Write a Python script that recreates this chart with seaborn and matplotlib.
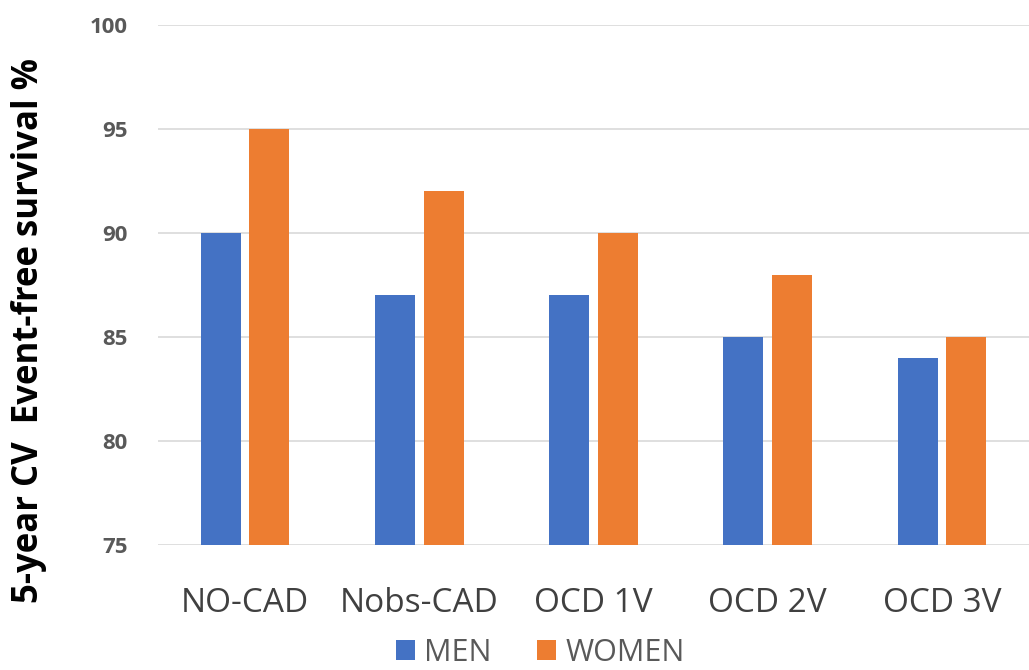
import matplotlib
matplotlib.use("Agg")
import matplotlib.pyplot as plt
import seaborn as sns
import pandas as pd

categories = ["NO-CAD", "Nobs-CAD", "OCD 1V", "OCD 2V", "OCD 3V"]
men = [90, 87, 87, 85, 84]
women = [95, 92, 90, 88, 85]
series_names = ["MEN", "WOMEN"]
y_ticks = [75, 80, 85, 90, 95, 100]

df = pd.DataFrame({
    "category": categories * 2,
    "value": men + women,
    "sex": [series_names[0]] * len(categories) + [series_names[1]] * len(categories),
})

sns.set_theme(style="white")
plt.rcParams["font.family"] = ["Open Sans", "DejaVu Sans"]

fig = plt.figure(figsize=(10.29, 6.70), dpi=100)
ax = fig.add_axes([0.1535, 0.1866, 0.8465, 0.7761])

sns.barplot(data=df, x="category", y="value", hue="sex",
            palette=["#4472C4", "#ED7D31"], width=0.56, gap=0.18,
            saturation=1, linewidth=0, edgecolor="none", ax=ax, zorder=3)

ax.set_ylim(75, 100)
ax.set_yticks(y_ticks)
ax.set_yticklabels([str(t) for t in y_ticks], fontsize=16, fontweight="bold", color="#595959")
ax.tick_params(axis="x", labelsize=24, colors="#404040", length=0, pad=30)
ax.tick_params(axis="y", length=0, pad=22)
ax.yaxis.grid(True, color="#D9D9D9", linewidth=1.2, zorder=0)
ax.set_axisbelow(True)
for s in ax.spines.values():
    s.set_visible(False)
ax.set_xlabel("")
ax.set_ylabel("5-year CV  Event-free survival %", fontsize=25, fontweight="bold", color="black")
ax.yaxis.set_label_coords(-0.127, 0.413)

ax.legend_.remove()
handles, labels = ax.get_legend_handles_labels()
fig.legend(handles, labels, loc="lower center", bbox_to_anchor=(0.525, -0.038), ncol=2, frameon=False,
           fontsize=22, labelcolor="#595959", handlelength=0.62, handleheight=0.62,
           handletextpad=0.3, columnspacing=1.5)

fig.savefig("out.png", dpi=100)
